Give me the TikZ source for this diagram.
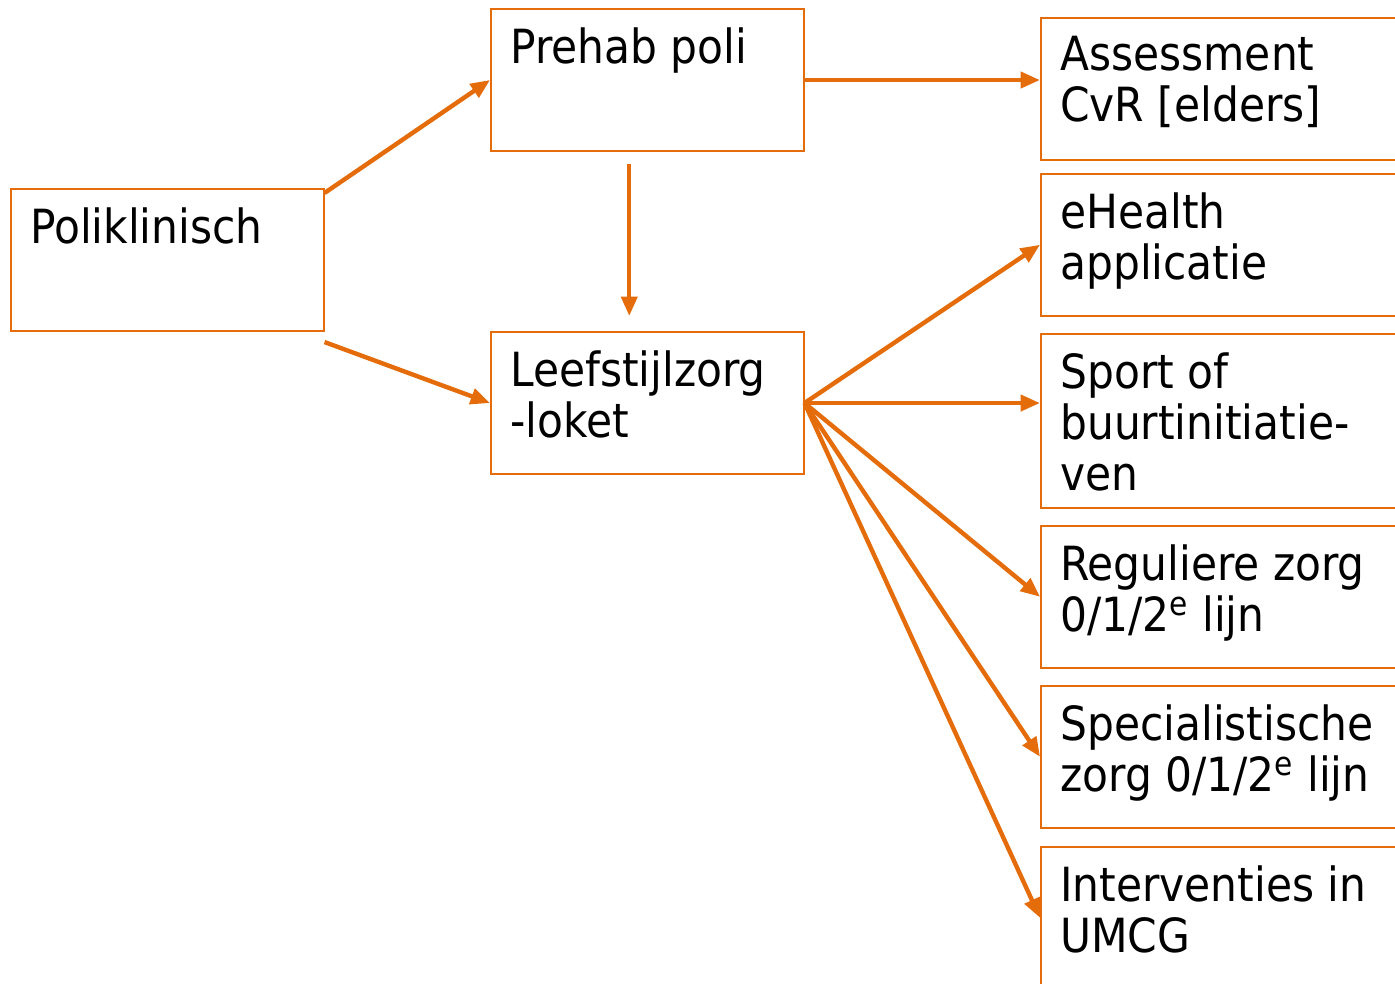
\documentclass[tikz,border=0pt]{standalone}
\usepackage{fontspec}
\setmainfont{DejaVu Sans Condensed}
\usetikzlibrary{arrows.meta}
\definecolor{umcgorange}{RGB}{228,108,10}

\begin{document}
\begin{tikzpicture}[x=0.02cm, y=-0.02cm,
    box/.style={draw=umcgorange, line width=0.9pt, anchor=north west, inner sep=0pt},
    smallbox/.style={box, minimum width=6.26cm, minimum height=2.85cm},
    widebox/.style={box, minimum width=7.6cm, minimum height=2.84cm},
    lbl/.style={anchor=north west, inner sep=0pt, align=left, font=\fontsize{26.8}{29.2}\selectfont},
    arr/.style={draw=umcgorange, line width=2.5pt, -{Triangle[length=11pt,width=9pt]}}]
  \useasboundingbox[fill=white] (0,0) rectangle (1395,983);
  % linker kolom
  \node[smallbox] (poli) at (10,188) {};
  \node[smallbox] (prehab) at (490,8) {};
  \node[smallbox] (loket) at (490,331) {};
  \node[lbl] (poli-t) at ([shift={(20,19)}]poli.north west) {Poliklinisch};
  \node[lbl] (prehab-t) at ([shift={(20,19)}]prehab.north west) {Prehab poli};
  \node[lbl] (loket-t) at ([shift={(20,19)}]loket.north west) {Leefstijlzorg\\-loket};
  % rechter kolom
  \node[widebox] (assess) at (1040,17) {};
  \node[widebox] (ehealth) at (1040,173) {};
  \node[widebox, minimum height=3.48cm] (sport) at (1040,333) {};
  \node[widebox] (regulier) at (1040,525) {};
  \node[widebox] (special) at (1040,685) {};
  \node[widebox] (interv) at (1040,846) {};
  \node[lbl] (assess-t) at ([shift={(20,19)}]assess.north west) {Assessment\\CvR [elders]};
  \node[lbl] (ehealth-t) at ([shift={(20,19)}]ehealth.north west) {eHealth\\applicatie};
  \node[lbl] (sport-t) at ([shift={(20,19)}]sport.north west) {Sport of\\buurtinitiatie-\\ven};
  \node[lbl] (regulier-t) at ([shift={(20,19)}]regulier.north west) {Reguliere zorg\\0/1/2\textsuperscript{e} lijn};
  \node[lbl] (special-t) at ([shift={(20,19)}]special.north west) {Specialistische\\zorg 0/1/2\textsuperscript{e} lijn};
  \node[lbl] (interv-t) at ([shift={(20,19)}]interv.north west) {Interventies in\\UMCG};
  % pijlen
  \draw[arr] ([shift={(0,5)}]poli.north east) -- (prehab.west);
  \draw[arr] ([shift={(0,10)}]poli.south east) -- (loket.west);
  \draw[arr] ([shift={(-18,12)}]prehab.south) -- ([shift={(-18,-15)}]loket.north);
  \draw[arr] (prehab.east) -- (prehab.east -| assess.west);
  \draw[arr] (loket.east) -- (ehealth.west);
  \draw[arr] (loket.east) -- (loket.east -| sport.west);
  \draw[arr] (loket.east) -- (regulier.west);
  \draw[arr] (loket.east) -- (special.west);
  \draw[arr] (loket.east) -- (interv.west);
\end{tikzpicture}
\end{document}
